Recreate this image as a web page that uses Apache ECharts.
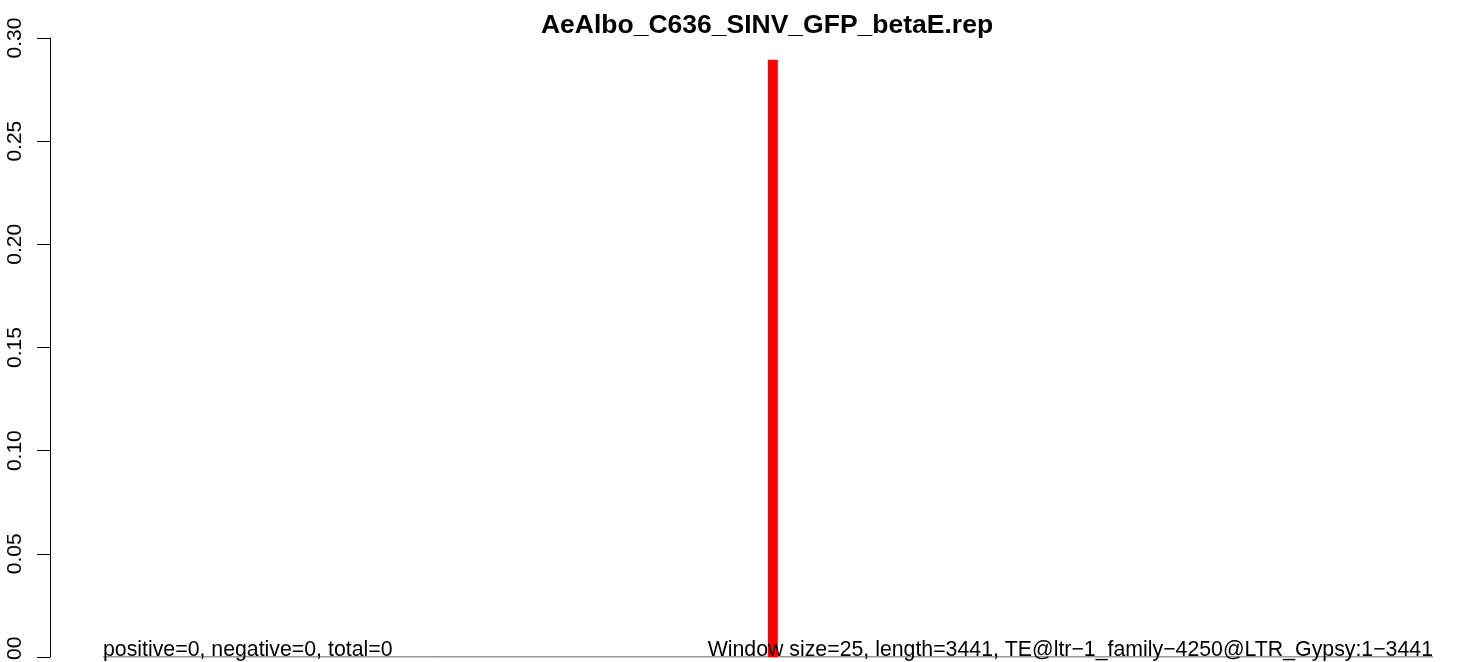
<!DOCTYPE html>
<html>
<head>
<meta charset="utf-8">
<script src="https://cdn.jsdelivr.net/npm/echarts@6/dist/echarts.min.js"></script>
<style>
html,body{margin:0;padding:0;background:#fff;}
#chart{width:1467px;height:662px;}
</style>
</head>
<body>
<div id="chart"></div>
<script>
// Data
var titleText = 'AeAlbo_C636_SINV_GFP_betaE.rep';
var leftNote = 'positive=0, negative=0, total=0';
var rightNote = 'Window size=25, length=3441, TE@ltr\u22121_family\u22124250@LTR_Gypsy:1\u22123441';
var barPositions = [1733];
var barValues = [0.2895];
var baselineX = [0, 3441];
var yTicks = [0, 0.05, 0.10, 0.15, 0.20, 0.25, 0.30];

var chart = echarts.init(document.getElementById('chart'));
var font = 'Liberation Sans, Arial, sans-serif';
chart.setOption({
  animation: false,
  backgroundColor: '#fff',
  title: [
    {text: titleText, left: 767, top: 12, padding: 0, textAlign: 'center',
     textStyle: {fontFamily: font, fontSize: 26.5, fontWeight: 'bold', color: '#000'}},
    {text: leftNote, left: 103, top: 640, padding: 0,
     textStyle: {fontFamily: font, fontSize: 21.3, fontWeight: 'normal', color: '#000'}},
    {text: rightNote, right: 34, top: 640, padding: 0,
     textStyle: {fontFamily: font, fontSize: 21.3, fontWeight: 'normal', color: '#000'}}
  ],
  grid: {left: 50, right: 34, top: 38, bottom: 5, containLabel: false, outerBoundsMode: 'none'},
  xAxis: {type: 'value', min: -137, max: 3441, show: false},
  yAxis: {
    type: 'value', min: 0, max: 0.30, interval: 0.05,
    axisLine: {show: true, onZero: false, lineStyle: {color: '#000', width: 1}},
    axisTick: {show: true, length: 13, lineStyle: {color: '#000', width: 1}},
    splitLine: {show: false},
    axisLabel: {rotate: 90, margin: 24, fontFamily: font, fontSize: 21, color: '#000',
      formatter: function (v) { return v.toFixed(2); }}
  },
  series: [
    {type: 'line', data: baselineX.map(function (x) { return [x, 0]; }),
     symbol: 'none', lineStyle: {color: '#333', width: 1}, z: 1},
    {type: 'bar', data: barPositions.map(function (x, i) { return [x, barValues[i]]; }),
     barWidth: 10, itemStyle: {color: '#ff0000'}, z: 2}
  ]
});
</script>
</body>
</html>
